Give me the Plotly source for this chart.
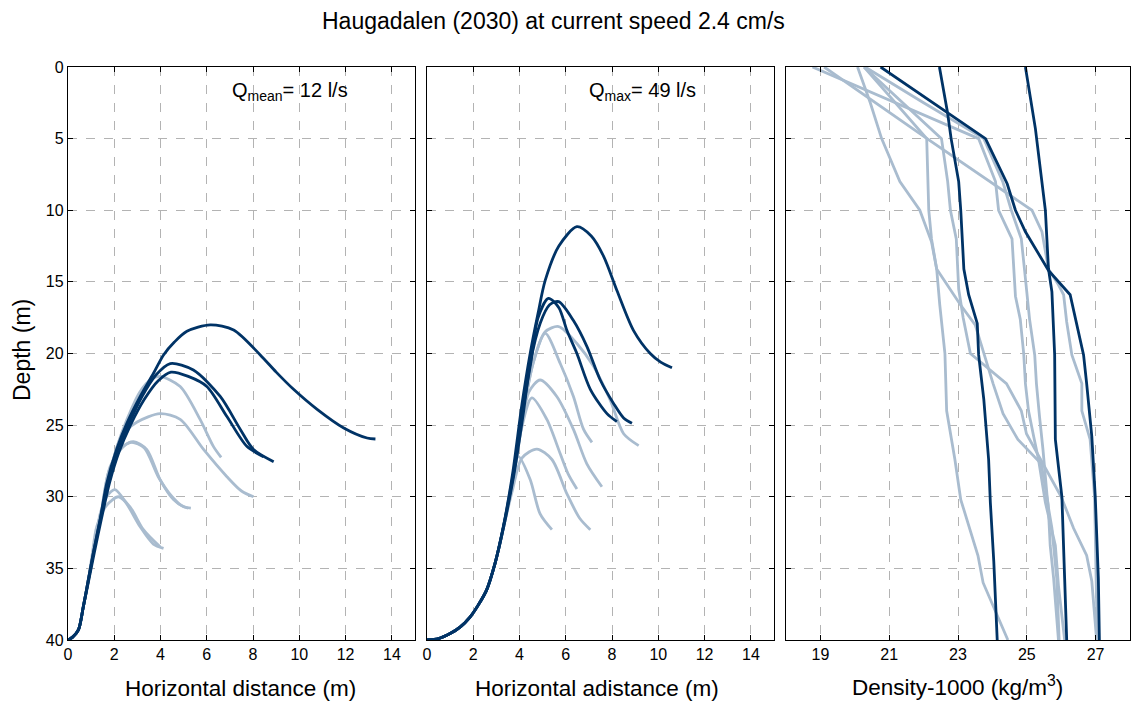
import plotly.graph_objects as go

DARK = "#003366"
LIGHT = "#a9bccf"

# ---------------- Panel 1: Q_mean = 12 l/s (horizontal distance, depth) ----------------
p1_dark_x = [
    [0, 0.2, 0.45, 0.66, 0.88, 1.1, 1.39, 1.67, 2.1, 2.54, 3.12, 3.69, 4.13, 4.6, 5.14, 6.15, 7.16, 8.31, 9.0, 9.75, 10.77, 11.92, 12.93, 13.29],
    [0, 0.2, 0.45, 0.66, 0.88, 1.1, 1.4, 1.7, 2.1, 2.6, 3.2, 3.8, 4.42, 5.42, 6.58, 7.45, 8.02, 8.89],
    [0, 0.2, 0.45, 0.66, 0.9, 1.15, 1.45, 1.8, 2.2, 2.7, 3.3, 3.9, 4.45, 5.2, 6.0, 6.87, 7.74, 8.45],
]
p1_dark_z = [
    [40, 39.8, 39.3, 37.7, 35.8, 33.9, 31.6, 29.1, 26.7, 24.9, 23.0, 21.4, 20.1, 19.2, 18.45, 18.0, 18.36, 20.1, 21.3, 22.5, 23.9, 25.2, 25.9, 25.97],
    [40, 39.8, 39.3, 37.7, 35.8, 33.9, 31.5, 29.2, 26.9, 25.0, 23.0, 21.5, 20.7, 21.15, 23.0, 25.3, 26.7, 27.55],
    [40, 39.8, 39.3, 37.7, 35.8, 33.8, 31.5, 29.0, 26.9, 25.0, 23.2, 21.9, 21.3, 21.6, 22.3, 24.4, 26.5, 27.2],
]
p1_light_x = [
    [0, 0.2, 0.45, 0.66, 0.88, 1.1, 1.4, 1.7, 2.1, 2.55, 3.1, 3.6, 3.98, 4.85, 5.71, 6.29, 6.62],
    [0, 0.2, 0.45, 0.66, 0.9, 1.1, 1.4, 1.75, 2.3, 2.97, 3.98, 4.85, 5.86, 6.87, 7.5, 8.02],
    [0, 0.2, 0.45, 0.66, 0.88, 1.1, 1.4, 1.82, 2.39, 2.83, 3.4, 3.98, 4.56, 5.0, 5.31],
    [0, 0.2, 0.45, 0.66, 0.88, 1.1, 1.4, 1.75, 2.3, 2.75, 3.3, 3.9, 4.5, 4.9, 5.2],
    [0, 0.2, 0.45, 0.66, 0.88, 1.1, 1.39, 1.67, 2.03, 2.54, 3.12, 3.69, 4.13],
    [0, 0.2, 0.45, 0.66, 0.88, 1.05, 1.24, 1.67, 2.18, 2.68, 3.26, 3.98],
]
p1_light_z = [
    [40, 39.8, 39.3, 37.7, 35.8, 33.9, 31.5, 29.0, 26.6, 24.6, 22.7, 21.8, 21.6, 22.3, 24.6, 26.5, 27.25],
    [40, 39.8, 39.3, 37.7, 35.8, 33.9, 31.5, 28.8, 25.8, 24.8, 24.2, 24.6, 26.7, 28.6, 29.6, 30.0],
    [40, 39.8, 39.3, 37.7, 35.8, 33.9, 31.5, 27.9, 26.5, 26.15, 26.7, 28.8, 30.2, 30.7, 30.8],
    [40, 39.8, 39.3, 37.7, 35.8, 33.9, 31.5, 28.3, 26.6, 26.2, 26.6, 28.6, 30.0, 30.6, 30.8],
    [40, 39.8, 39.3, 37.7, 35.8, 33.9, 31.2, 30.0, 29.5, 30.5, 32.1, 33.3, 33.6],
    [40, 39.8, 39.3, 37.7, 35.8, 34.0, 32.1, 30.6, 30.0, 30.7, 32.3, 33.5],
]

# ---------------- Panel 2: Q_max = 49 l/s ----------------
p2_dark_x = [
    [0, 0.5, 1.0, 1.43, 1.86, 2.2, 2.58, 2.95, 3.3, 3.7, 4.1, 4.46, 4.8, 5.11, 5.7, 6.48, 7.1, 7.63, 8.21, 8.93, 9.65, 10.1, 10.59],
    [0, 0.5, 1.0, 1.43, 1.86, 2.2, 2.58, 2.95, 3.3, 3.74, 4.17, 4.5, 4.8, 5.25, 5.7, 6.05, 6.48, 7.06, 7.78, 8.21],
    [0, 0.5, 1.0, 1.43, 1.86, 2.2, 2.58, 2.95, 3.3, 3.74, 4.17, 4.46, 4.89, 5.3, 5.69, 6.33, 6.91, 7.49, 8.07, 8.5, 8.86],
]
p2_dark_z = [
    [40, 39.9, 39.55, 39.1, 38.4, 37.6, 36.5, 34.6, 32.1, 28.4, 23.6, 20.0, 17.2, 14.9, 12.5, 11.15, 11.8, 13.2, 15.6, 18.4, 20.0, 20.6, 21.0],
    [40, 39.9, 39.55, 39.1, 38.4, 37.6, 36.5, 34.6, 32.1, 28.4, 23.7, 20.5, 17.5, 16.15, 16.8, 18.4, 20.0, 22.5, 24.2, 24.76],
    [40, 39.9, 39.55, 39.1, 38.4, 37.6, 36.5, 34.6, 32.2, 28.6, 24.1, 20.7, 17.9, 16.6, 16.38, 17.7, 19.5, 21.85, 23.5, 24.5, 24.87],
]
p2_light_x = [
    [0, 0.5, 1.0, 1.43, 1.86, 2.2, 2.58, 2.95, 3.3, 3.74, 4.17, 4.6, 5.1, 5.69, 6.48, 7.2, 7.92, 8.5, 9.15],
    [0, 0.5, 1.0, 1.43, 1.86, 2.2, 2.58, 2.95, 3.3, 3.74, 4.17, 4.6, 5.11, 5.76, 6.33, 6.77, 7.13],
    [0, 0.5, 1.0, 1.43, 1.86, 2.2, 2.58, 2.95, 3.3, 3.74, 4.1, 4.4, 4.89, 5.61, 6.33, 6.91, 7.56],
    [0, 0.5, 1.0, 1.43, 1.86, 2.2, 2.58, 2.95, 3.3, 3.74, 4.05, 4.53, 5.18, 5.76, 6.1, 6.48],
    [0, 0.5, 1.0, 1.43, 1.86, 2.2, 2.58, 2.95, 3.3, 3.7, 4.1, 4.75, 5.4, 6.05, 6.6, 7.06],
    [0, 0.5, 1.0, 1.43, 1.86, 2.2, 2.58, 2.95, 3.3, 3.6, 3.95, 4.46, 4.89, 5.4],
]
p2_light_z = [
    [40, 39.9, 39.55, 39.1, 38.4, 37.6, 36.5, 34.6, 32.2, 28.6, 24.0, 20.6, 18.5, 18.12, 19.3, 20.9, 23.25, 25.6, 26.43],
    [40, 39.9, 39.55, 39.1, 38.4, 37.6, 36.5, 34.6, 32.2, 28.6, 24.0, 20.6, 18.6, 20.7, 23.0, 25.3, 26.2],
    [40, 39.9, 39.55, 39.1, 38.4, 37.6, 36.5, 34.6, 32.2, 28.6, 25.0, 22.7, 21.85, 23.0, 25.3, 27.7, 29.3],
    [40, 39.9, 39.55, 39.1, 38.4, 37.6, 36.5, 34.6, 32.2, 28.6, 25.5, 23.1, 24.6, 27.0, 28.4, 29.46],
    [40, 39.9, 39.55, 39.1, 38.4, 37.6, 36.5, 34.6, 32.2, 29.5, 27.3, 26.67, 27.4, 29.8, 31.5, 32.3],
    [40, 39.9, 39.55, 39.1, 38.4, 37.6, 36.5, 34.6, 32.2, 29.5, 27.2, 28.8, 31.2, 32.3],
]

# ---------------- Panel 3: density profiles (density-1000, depth) ----------------
p3_dark_d = [
    [20.75, 23.8, 24.43, 24.67, 24.96, 25.63, 26.26, 26.65, 26.74, 26.89, 26.99, 27.08, 27.11],
    [22.46, 22.69, 22.8, 23.02, 23.08, 23.17, 23.31, 23.56, 23.6, 23.75, 23.89, 23.94, 24.04, 24.14],
    [24.96, 25.25, 25.54, 25.63, 25.73, 25.81, 25.83, 26.02, 26.1, 26.16],
]
p3_dark_z = [
    [0, 5, 8.15, 10, 11.5, 14.2, 15.9, 20.1, 22.1, 25.8, 30, 35.7, 40],
    [0, 3.1, 5, 8, 10, 14.1, 15.9, 17.9, 20.1, 23.2, 27.4, 30.4, 34.5, 40],
    [0, 4.3, 10, 14.1, 15.7, 20.1, 26, 30, 35.7, 40],
]
p3_light_d = [
    [20.08, 20.3, 20.45, 20.78, 21.31, 21.89, 22.23, 22.38, 22.47, 22.62, 22.67, 22.91, 23.08, 23.58, 23.73, 24.45],
    [20.27, 22.09, 22.15, 22.23, 22.38, 23.07, 23.5, 23.75, 24.02, 24.31, 24.74, 25.42, 25.62, 25.68, 25.78, 25.92],
    [20.27, 22.52, 22.7, 22.78, 22.95, 23.02, 23.15, 23.36, 24.41, 24.84, 24.99, 25.47, 26.0, 26.36, 26.74, 26.89, 27.03],
    [18.77, 23.6, 24.09, 24.18, 24.57, 24.67, 24.81, 24.91, 24.96, 25.05, 25.2, 25.34, 25.54, 25.83, 25.92, 26.1],
    [20.3, 22.0, 23.75, 24.3, 24.55, 24.84, 24.94, 25.08, 25.23, 25.28, 25.37, 25.47, 25.61, 25.73, 25.87, 25.94],
    [19.11, 22.1, 25.15, 25.44, 25.63, 25.92, 26.07, 26.16, 26.31, 26.6, 26.6, 26.84, 26.97, 27.02, 27.05],
]
p3_light_z = [
    [0, 1.5, 2.5, 5, 8, 10, 12.2, 14.1, 16.6, 20, 24, 27.4, 30.2, 34.1, 36, 40],
    [0, 5, 10, 12, 14.1, 16.6, 18, 20, 22.1, 24.2, 26, 27.7, 30.5, 33.4, 35.7, 40],
    [0, 5, 8, 10, 12, 15.5, 17.5, 20, 22.1, 24, 25.6, 27.7, 30, 32.2, 34.1, 35.9, 40],
    [0, 5, 8, 10, 12, 16, 17.6, 20, 22.1, 24, 25.8, 27.4, 30.4, 33.4, 36.2, 40],
    [0, 2.5, 5, 8, 10, 12, 14.3, 17.6, 20.1, 22.1, 24.4, 26.7, 30.5, 32.2, 35.7, 40],
    [0, 5, 10, 11.5, 14.1, 15.2, 15.9, 17.8, 20.1, 22.1, 24, 26, 30, 35, 40],
]

x_ticks_dist = [0, 2, 4, 6, 8, 10, 12, 14]
x_ticks_dens = [19, 21, 23, 25, 27]
y_ticks = [0, 5, 10, 15, 20, 25, 30, 35, 40]

title_text = "Haugadalen (2030) at current speed 2.4 cm/s"
xlabels = ["Horizontal distance (m)", "Horizontal adistance (m)", "Density-1000 (kg/m<sup>3</sup>)"]
ylabel = "Depth (m)"
q_labels = ["Q<sub>mean</sub>= 12 l/s", "Q<sub>max</sub>= 49 l/s"]

fig = go.Figure()

def add_lines(xs, zs, color, xa, ya, shape):
    for x, z in zip(xs, zs):
        fig.add_trace(go.Scatter(x=x, y=z, mode="lines", xaxis=xa, yaxis=ya,
                                 line=dict(color=color, width=2.8, shape=shape, smoothing=0.8),
                                 showlegend=False, hoverinfo="skip"))

add_lines(p1_light_x, p1_light_z, LIGHT, "x", "y", "spline")
add_lines(p1_dark_x, p1_dark_z, DARK, "x", "y", "spline")
add_lines(p2_light_x, p2_light_z, LIGHT, "x2", "y2", "spline")
add_lines(p2_dark_x, p2_dark_z, DARK, "x2", "y2", "spline")
add_lines(p3_light_d, p3_light_z, LIGHT, "x3", "y3", "linear")
add_lines(p3_dark_d, p3_dark_z, DARK, "x3", "y3", "linear")

W, H = 1133, 704
def fx(px):
    return px / W
def fy(py):
    return 1 - py / H

doms = [(68, 415), (427, 774), (786, 1130)]
ydom = [fy(640), fy(67)]

FONT = "Liberation Sans, Arial, sans-serif"
tickfont = dict(family=FONT, size=16, color="black")
common_axis = dict(showline=True, linecolor="black", linewidth=1.3, mirror="ticks",
                   ticks="inside", ticklen=5, tickcolor="black", tickwidth=1,
                   showgrid=True, gridcolor="#b3b3b3", gridwidth=1, griddash="dash",
                   zeroline=False, tickfont=tickfont, automargin=False)

layout = dict(
    width=W, height=H, margin=dict(l=0, r=0, t=0, b=0, autoexpand=False),
    plot_bgcolor="white", paper_bgcolor="white", showlegend=False,
    font=dict(family=FONT, color="black"),
)
for i, (a, b) in enumerate(doms):
    xn = "xaxis" if i == 0 else f"xaxis{i+1}"
    yn = "yaxis" if i == 0 else f"yaxis{i+1}"
    ya = "y" if i == 0 else f"y{i+1}"
    xa = "x" if i == 0 else f"x{i+1}"
    if i < 2:
        xax = dict(common_axis, domain=[fx(a), fx(b)], range=[0, 15], tickvals=x_ticks_dist, anchor=ya)
    else:
        xax = dict(common_axis, domain=[fx(a), fx(b)], range=[18, 28], tickvals=x_ticks_dens, anchor=ya)
    yax = dict(common_axis, domain=ydom, range=[40, 0], tickvals=y_ticks, anchor=xa,
               showticklabels=(i == 0))
    layout[xn] = xax
    layout[yn] = yax

fig.update_layout(**layout)

ann = [
    dict(text=title_text, x=fx(553), y=fy(21), xref="paper", yref="paper", showarrow=False,
         font=dict(size=23), xanchor="center", yanchor="middle"),
    dict(text=xlabels[0], x=fx(240), y=fy(688), xref="paper", yref="paper", showarrow=False,
         font=dict(size=22.5), xanchor="center", yanchor="middle"),
    dict(text=xlabels[1], x=fx(597), y=fy(688), xref="paper", yref="paper", showarrow=False,
         font=dict(size=22.5), xanchor="center", yanchor="middle"),
    dict(text=xlabels[2], x=fx(957), y=fy(686), xref="paper", yref="paper", showarrow=False,
         font=dict(size=22.5), xanchor="center", yanchor="middle"),
    dict(text=ylabel, x=fx(22), y=fy(350), xref="paper", yref="paper", showarrow=False,
         font=dict(size=23), textangle=-90, xanchor="center", yanchor="middle"),
    dict(text=q_labels[0], x=7.0, y=1.7, xref="x", yref="y", showarrow=False,
         font=dict(size=20), xanchor="left", yanchor="middle"),
    dict(text=q_labels[1], x=6.9, y=1.7, xref="x2", yref="y2", showarrow=False,
         font=dict(size=20), xanchor="left", yanchor="middle"),
]
fig.update_layout(annotations=ann)

# remove the default page margin so the 1133x704 figure fills the window exactly
fig.write_html("out.html", config={"displayModeBar": False},
               post_script="document.body.style.margin='0px';document.body.style.overflow='hidden';")
